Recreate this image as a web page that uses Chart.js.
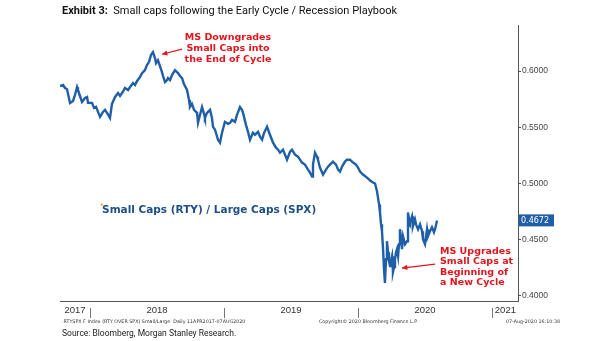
<!DOCTYPE html>
<html>
<head>
<meta charset="utf-8">
<script src="https://cdn.jsdelivr.net/npm/chart.js"></script>
<style>
  html, body { margin: 0; padding: 0; background: #fff; }
  #wrap { width: 605px; height: 341px; }
</style>
</head>
<body>
<div id="wrap"><canvas id="ratioChart" width="605" height="341"></canvas></div>
<script>
// RTY / SPX ratio (x as decimal year)
const dateYears = [
  2017.776, 2017.799, 2017.813, 2017.828, 2017.851, 2017.873, 2017.888, 2017.903, 2017.910, 2017.925,
  2017.940, 2017.963, 2017.978, 2017.985, 2018.015, 2018.030, 2018.045, 2018.060, 2018.075, 2018.097,
  2018.112, 2018.127, 2018.149, 2018.164, 2018.187, 2018.209, 2018.224, 2018.239, 2018.261, 2018.284,
  2018.299, 2018.321, 2018.336, 2018.351, 2018.373, 2018.388, 2018.396, 2018.410, 2018.425, 2018.440,
  2018.455, 2018.470, 2018.485, 2018.493, 2018.507, 2018.522, 2018.537, 2018.545, 2018.560, 2018.575,
  2018.582, 2018.597, 2018.612, 2018.634, 2018.649, 2018.657, 2018.672, 2018.687, 2018.701, 2018.724,
  2018.739, 2018.746, 2018.761, 2018.776, 2018.799, 2018.806, 2018.821, 2018.836, 2018.851, 2018.858,
  2018.873, 2018.896, 2018.910, 2018.918, 2018.933, 2018.955, 2018.970, 2018.985, 2019.007, 2019.030,
  2019.045, 2019.060, 2019.082, 2019.097, 2019.119, 2019.134, 2019.142, 2019.164, 2019.179, 2019.194,
  2019.216, 2019.231, 2019.254, 2019.269, 2019.284, 2019.299, 2019.321, 2019.343, 2019.366, 2019.388,
  2019.403, 2019.418, 2019.440, 2019.455, 2019.470, 2019.493, 2019.507, 2019.530, 2019.552, 2019.567,
  2019.582, 2019.604, 2019.627, 2019.642, 2019.657, 2019.664, 2019.679, 2019.694, 2019.701, 2019.716,
  2019.739, 2019.761, 2019.776, 2019.791, 2019.813, 2019.836, 2019.851, 2019.866, 2019.881, 2019.903,
  2019.918, 2019.940, 2019.963, 2019.985, 2020.000, 2020.015, 2020.037, 2020.067, 2020.090, 2020.112,
  2020.127, 2020.142, 2020.157, 2020.164, 2020.172, 2020.179, 2020.187, 2020.194, 2020.201, 2020.209,
  2020.216, 2020.224, 2020.231, 2020.239, 2020.246, 2020.254, 2020.261, 2020.269, 2020.276, 2020.284,
  2020.291, 2020.299, 2020.306, 2020.313, 2020.321, 2020.328, 2020.336, 2020.351, 2020.366, 2020.373,
  2020.381, 2020.388, 2020.403, 2020.410, 2020.425, 2020.433, 2020.448, 2020.463, 2020.478, 2020.485,
  2020.500, 2020.515, 2020.522, 2020.537, 2020.552, 2020.567, 2020.575, 2020.590
];
const ratio = [
  0.5867, 0.5876, 0.5850, 0.5841, 0.5717, 0.5735, 0.5788, 0.5858, 0.5832, 0.5779,
  0.5726, 0.5761, 0.5770, 0.5717, 0.5717, 0.5673, 0.5681, 0.5637, 0.5593, 0.5637,
  0.5655, 0.5628, 0.5584, 0.5708, 0.5770, 0.5805, 0.5779, 0.5805, 0.5850, 0.5832,
  0.5858, 0.5894, 0.5876, 0.5912, 0.5947, 0.5982, 0.5991, 0.6009, 0.6053, 0.6080,
  0.6142, 0.6168, 0.6115, 0.6071, 0.6097, 0.6044, 0.5991, 0.5956, 0.5903, 0.5920,
  0.5938, 0.5920, 0.5965, 0.6009, 0.5991, 0.5982, 0.5956, 0.5938, 0.5885, 0.5832,
  0.5743, 0.5681, 0.5708, 0.5655, 0.5628, 0.5540, 0.5611, 0.5681, 0.5619, 0.5584,
  0.5628, 0.5655, 0.5584, 0.5504, 0.5478, 0.5389, 0.5363, 0.5451, 0.5549, 0.5531,
  0.5540, 0.5566, 0.5549, 0.5611, 0.5681, 0.5655, 0.5628, 0.5522, 0.5460, 0.5389,
  0.5451, 0.5434, 0.5460, 0.5416, 0.5389, 0.5451, 0.5504, 0.5434, 0.5363, 0.5319,
  0.5301, 0.5274, 0.5301, 0.5257, 0.5212, 0.5283, 0.5301, 0.5257, 0.5239, 0.5212,
  0.5186, 0.5168, 0.5124, 0.5097, 0.5062, 0.5168, 0.5274, 0.5239, 0.5212, 0.5142,
  0.5080, 0.5124, 0.5150, 0.5168, 0.5195, 0.5168, 0.5124, 0.5106, 0.5150, 0.5195,
  0.5212, 0.5212, 0.5186, 0.5168, 0.5142, 0.5106, 0.5080, 0.5053, 0.5027, 0.5009,
  0.5000, 0.4929, 0.4814, 0.4743, 0.4637, 0.4575, 0.4416, 0.4239, 0.4115, 0.4327,
  0.4487, 0.4389, 0.4310, 0.4265, 0.4310, 0.4354, 0.4212, 0.4257, 0.4327, 0.4389,
  0.4416, 0.4354, 0.4460, 0.4593, 0.4522, 0.4416, 0.4531, 0.4460, 0.4487, 0.4743,
  0.4681, 0.4655, 0.4708, 0.4619, 0.4681, 0.4637, 0.4593, 0.4637, 0.4575, 0.4504,
  0.4460, 0.4593, 0.4531, 0.4575, 0.4611, 0.4566, 0.4593, 0.4672
];
const yTicks = [0.40, 0.45, 0.50, 0.55, 0.60];
const yearLabels = ['2017', '2018', '2019', '2020', '2021'];
const yearLabelPos = [2017.888, 2018.5, 2019.5, 2020.5, 2021.1];
const yearStarts = [2018, 2019, 2020, 2021];

const points = dateYears.map((t, i) => ({ x: t, y: ratio[i] }));
const BLUE = '#1f5fa8';
const RED = '#e3141c';

function arrow(c, x1, y1, x2, y2) {
  const ang = Math.atan2(y2 - y1, x2 - x1);
  c.beginPath();
  c.moveTo(x1, y1);
  c.lineTo(x2, y2);
  c.stroke();
  c.beginPath();
  c.moveTo(x2, y2);
  c.lineTo(x2 - 6 * Math.cos(ang - 0.45), y2 - 6 * Math.sin(ang - 0.45));
  c.lineTo(x2 - 6 * Math.cos(ang + 0.45), y2 - 6 * Math.sin(ang + 0.45));
  c.closePath();
  c.fill();
}

const extras = {
  id: 'extras',
  afterDraw(chart) {
    const c = chart.ctx, xs = chart.scales.x, ys = chart.scales.y, a = chart.chartArea;
    const px = v => xs.getPixelForValue(v), py = v => ys.getPixelForValue(v);
    c.save();

    // title
    c.textBaseline = 'middle';
    c.fillStyle = '#111';
    c.font = 'bold 11px Roboto';
    c.fillText('Exhibit 3:', 62, 11);
    const w = c.measureText('Exhibit 3:').width;
    c.font = '11px Roboto';
    c.fillText('  Small caps following the Early Cycle / Recession Playbook', 62 + w, 11);

    // year separators under the axis
    c.strokeStyle = '#777';
    c.lineWidth = 1;
    yearStarts.forEach(yr => {
      const x = Math.round(px(yr)) + 0.5;
      c.beginPath();
      c.moveTo(x, a.bottom + 7);
      c.lineTo(x, a.bottom + 17);
      c.stroke();
    });

    // bloomberg footer
    c.fillStyle = '#333';
    c.font = '4.8px "DejaVu Sans"';
    c.textAlign = 'left';
    c.fillText('.RTYSPX F Index (RTY OVER SPX) Small/Large  Daily 11APR2017-07AUG2020', 62, a.bottom + 21);
    c.fillText('Copyright\u00A9 2020 Bloomberg Finance L.P.', 319, a.bottom + 21);
    c.textAlign = 'right';
    c.fillText('07-Aug-2020 16:10:38', 560, a.bottom + 21);
    c.textAlign = 'left';

    c.fillStyle = '#222';
    c.font = '8.5px Roboto';
    c.fillText('Source: Bloomberg, Morgan Stanley Research.', 62, a.bottom + 33);

    // series name
    c.fillStyle = '#f39a1e';
    c.fillRect(px(2018.08), py(0.4822), 2, 2);
    c.fillStyle = '#1d4f86';
    c.font = 'bold 10.5px "DejaVu Sans"';
    c.fillText('Small Caps (RTY) / Large Caps (SPX)', px(2018.09), py(0.4761));

    // annotations
    c.fillStyle = RED;
    c.strokeStyle = RED;
    c.lineWidth = 1.2;
    c.font = 'bold 9.5px "DejaVu Sans"';
    c.textAlign = 'center';
    const dx = px(2019.03), dy = py(0.6301);
    ['MS Downgrades', 'Small Caps into', 'the End of Cycle'].forEach((s, i) => c.fillText(s, dx, dy + i * 11));
    arrow(c, px(2018.687), py(0.6195), px(2018.537), py(0.6150));

    c.textAlign = 'left';
    const ux = px(2020.612), uy = py(0.4398);
    ['MS Upgrades', 'Small Caps at', 'Beginning of', 'a New Cycle'].forEach((s, i) => c.fillText(s, ux, uy + i * 10.6));
    arrow(c, px(2020.575), py(0.4283), px(2020.328), py(0.4248));

    // last value box
    const last = ratio[ratio.length - 1];
    const vy = py(last);
    c.fillStyle = BLUE;
    c.fillRect(a.right + 1, vy - 6, 35, 12);
    c.fillStyle = '#fff';
    c.font = '8px "DejaVu Sans"';
    c.fillText(last.toFixed(4), a.right + 3, vy + 0.5);

    c.restore();
  }
};

new Chart(document.getElementById('ratioChart').getContext('2d'), {
  type: 'line',
  data: {
    datasets: [{
      data: points,
      borderColor: BLUE,
      borderWidth: 2.4,
      pointRadius: 0,
      tension: 0,
      fill: false
    }]
  },
  options: {
    responsive: false,
    animation: false,
    layout: { padding: { left: 60, top: 25, right: 0, bottom: 0 } },
    plugins: { legend: { display: false }, tooltip: { enabled: false } },
    scales: {
      x: {
        type: 'linear',
        min: 2017.776,
        max: 2021.194,
        afterBuildTicks: s => { s.ticks = yearLabelPos.map(v => ({ value: v })); },
        afterFit: s => { s.height = 40; },
        ticks: {
          autoSkip: false,
          maxRotation: 0,
          padding: 4,
          color: '#333',
          font: { family: 'Liberation Sans', size: 9.5 },
          callback: (v, i) => yearLabels[i]
        },
        grid: { drawOnChartArea: false, drawTicks: false },
        border: { display: true, color: '#555', width: 1 }
      },
      y: {
        position: 'right',
        min: 0.3955,
        max: 0.641,
        afterBuildTicks: s => { s.ticks = yTicks.map(v => ({ value: v })); },
        afterFit: s => { s.width = 87; },
        ticks: {
          padding: 1,
          color: '#444',
          font: { family: 'Liberation Sans', size: 8.5 },
          callback: v => v.toFixed(4)
        },
        grid: { drawOnChartArea: false, tickLength: 3, color: '#555' },
        border: { display: true, color: '#555', width: 1 }
      }
    }
  },
  plugins: [extras]
});
</script>
</body>
</html>
